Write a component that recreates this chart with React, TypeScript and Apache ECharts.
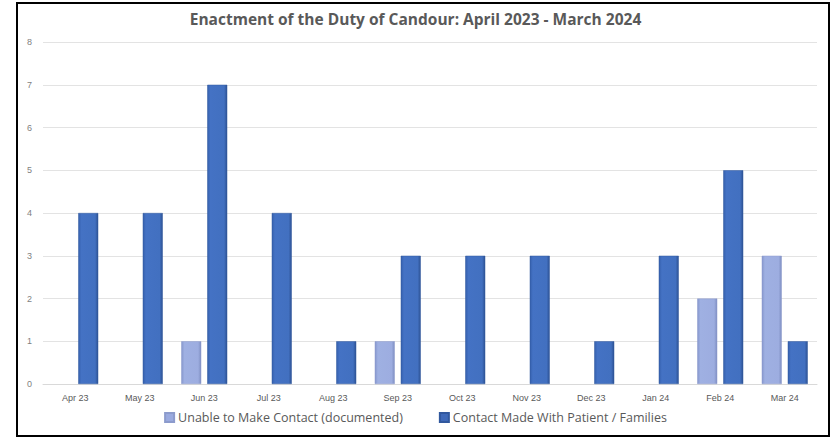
import React, { useEffect, useRef } from "react";
import * as echarts from "echarts";

const months = ["Apr 23", "May 23", "Jun 23", "Jul 23", "Aug 23", "Sep 23", "Oct 23", "Nov 23", "Dec 23", "Jan 24", "Feb 24", "Mar 24"];
const unableToContact = [null, null, 1, null, null, 1, null, null, null, null, 2, 3];
const contactMade = [4, 4, 7, 4, 1, 3, 3, 3, 1, 3, 5, 1];
const seriesNames = ["Unable to Make Contact (documented)", "Contact Made With Patient / Families"];
const titleText = "Enactment of the Duty of Candour: April 2023 - March 2024";

export default function App() {
  const ref = useRef<HTMLDivElement>(null);
  useEffect(() => {
    if (!ref.current) return;
    const chart = echarts.init(ref.current, undefined, { renderer: "svg" });
    const font = "'Liberation Sans', Arial, sans-serif";
    const font2 = "'Open Sans', 'Noto Sans', sans-serif";
    const darkGrad = new echarts.graphic.LinearGradient(0, 0, 1, 0, [
      { offset: 0, color: "#3560ad" },
      { offset: 0.15, color: "#4472c4" },
      { offset: 0.85, color: "#4270c0" },
      { offset: 1, color: "#2d5294" },
    ]);
    const lightGrad = new echarts.graphic.LinearGradient(0, 0, 1, 0, [
      { offset: 0, color: "#8596cc" },
      { offset: 0.15, color: "#9fb0e2" },
      { offset: 0.85, color: "#9dade0" },
      { offset: 1, color: "#7f8fc2" },
    ]);
    chart.setOption({
      animation: false,
      backgroundColor: "#ffffff",
      title: {
        text: titleText,
        left: "center",
        top: 6,
        textStyle: { fontFamily: font2, fontSize: 15.5, fontWeight: "bold", color: "#595959" },
      },
      grid: { left: 43, right: 14, top: 42, bottom: 54, containLabel: false },
      legend: {
        bottom: 9,
        left: "center",
        itemWidth: 9,
        itemHeight: 9,
        itemGap: 36,
        icon: "rect",
        textStyle: { fontFamily: font2, fontSize: 12.5, color: "#595959", padding: [0, 0, 0, -1] },
        data: [
          { name: seriesNames[0], itemStyle: { color: "#9aaadf" } },
          { name: seriesNames[1], itemStyle: { color: "#3f69b8" } },
        ],
      },
      xAxis: {
        type: "category",
        data: months,
        axisLine: { lineStyle: { color: "#d9d9d9", width: 1 } },
        axisTick: { show: false },
        axisLabel: { fontFamily: font, fontSize: 9, color: "#595959", margin: 9 },
      },
      yAxis: {
        type: "value",
        min: 0,
        max: 8,
        interval: 1,
        axisLine: { show: false },
        axisTick: { show: false },
        splitLine: { lineStyle: { color: "#e3e3e3", width: 1 } },
        axisLabel: { fontFamily: font, fontSize: 9, color: "#7f7f7f", margin: 11 },
      },
      series: [
        {
          name: seriesNames[0],
          type: "bar",
          data: unableToContact,
          barWidth: 20,
          barGap: "30%",
          itemStyle: { color: lightGrad, borderColor: "#8c9bcc", borderWidth: 0.5 },
        },
        {
          name: seriesNames[1],
          type: "bar",
          data: contactMade,
          barWidth: 20,
          barGap: "30%",
          itemStyle: { color: darkGrad, borderColor: "#31589e", borderWidth: 0.5 },
        },
      ],
      graphic: [
        {
          type: "rect",
          shape: { x: 17, y: 3, width: 812, height: 433 },
          style: { fill: "none", stroke: "#000000", lineWidth: 2 },
          silent: true,
        },
      ],
    });
    return () => chart.dispose();
  }, []);
  return <div ref={ref} style={{ position: "fixed", left: 0, top: 0, width: 831, height: 438 }} />;
}
